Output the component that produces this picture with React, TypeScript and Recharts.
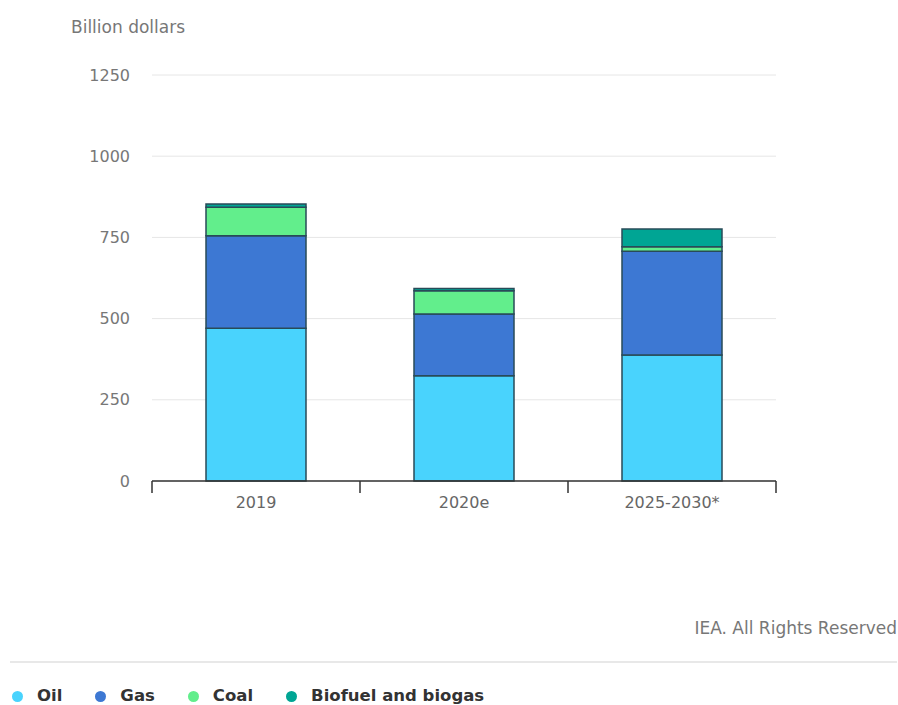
import React from "react";
import { BarChart, Bar, XAxis, YAxis, CartesianGrid } from "recharts";

const categories = ["2019", "2020e", "2025-2030*"];
const oil = [470, 324, 388];
const gas = [285, 190, 319];
const coal = [88, 72, 14];
const biofuel = [10, 7, 55];
const yTicks = [0, 250, 500, 750, 1000, 1250];

const seriesNames = ["Oil", "Gas", "Coal", "Biofuel and biogas"];
const seriesKeys = ["oil", "gas", "coal", "biofuel"];
const seriesColors = ["#49d3fd", "#3d78d3", "#62ee8c", "#00a594"];

const data = categories.map((name, i) => ({
  name,
  oil: oil[i],
  gas: gas[i],
  coal: coal[i],
  biofuel: biofuel[i],
}));

const FONT = "'DejaVu Sans', sans-serif";

const CategoryTick = (props: any) => {
  const { x, y, payload, index, visibleTicksCount } = props;
  const half = payload && payload.offset ? payload.offset : 0;
  const last = index === visibleTicksCount - 1;
  return (
    <g>
      <line x1={x - half} x2={x - half} y1={y} y2={y + 12} stroke="#333" strokeWidth={1.5} />
      {last && <line x1={x + half} x2={x + half} y1={y} y2={y + 12} stroke="#333" strokeWidth={1.5} />}
      <text
        x={x}
        y={y + 22}
        textAnchor="middle"
        dominantBaseline="middle"
        fill="#666"
        fontSize={16}
        fontFamily={FONT}
      >
        {payload.value}
      </text>
    </g>
  );
};

export default function App() {
  return (
    <div
      style={{
        position: "absolute",
        left: 0,
        top: 0,
        width: 898,
        height: 705,
        background: "#fff",
        fontFamily: FONT,
        overflow: "hidden",
      }}
    >
      <div
        style={{
          position: "absolute",
          left: 71,
          top: 17,
          fontSize: 17,
          color: "#777",
          lineHeight: "20px",
        }}
      >
        Billion dollars
      </div>
      <BarChart
        width={898}
        height={705}
        data={data}
        margin={{ top: 75, right: 122, left: 0, bottom: 194 }}
      >
        <CartesianGrid vertical={false} stroke="#e6e6e6" strokeWidth={1} />
        <YAxis
          domain={[0, 1250]}
          ticks={yTicks}
          width={152}
          axisLine={false}
          tickLine={false}
          tickSize={0}
          tickMargin={22}
          tick={{ fill: "#777", fontSize: 16, fontFamily: FONT }}
          interval={0}
        />
        <XAxis
          dataKey="name"
          height={30}
          axisLine={{ stroke: "#333", strokeWidth: 1.5 }}
          tickLine={false}
          tickSize={0}
          tickMargin={0}
          interval={0}
          tick={<CategoryTick />}
        />
        {seriesKeys.map((k, i) => (
          <Bar
            key={k}
            dataKey={k}
            name={seriesNames[i]}
            stackId="a"
            fill={seriesColors[i]}
            stroke="#284b58"
            strokeWidth={1.5}
            barSize={100}
            isAnimationActive={false}
          />
        ))}
      </BarChart>
      <div
        style={{
          position: "absolute",
          right: 1,
          top: 618,
          fontSize: 17,
          color: "#777",
          lineHeight: "20px",
        }}
      >
        IEA. All Rights Reserved
      </div>
      <div
        style={{
          position: "absolute",
          left: 10,
          width: 887,
          top: 661,
          height: 2,
          background: "#e8e8e8",
        }}
      />
      <div
        style={{
          position: "absolute",
          left: 12,
          top: 686,
          display: "flex",
          alignItems: "center",
          fontSize: 16.5,
          fontWeight: "bold",
          color: "#333",
          lineHeight: "20px",
        }}
      >
        {seriesNames.map((n, i) => (
          <div key={n} style={{ display: "flex", alignItems: "center", marginRight: 33 }}>
            <span
              style={{
                display: "inline-block",
                width: 11,
                height: 11,
                borderRadius: "50%",
                background: seriesColors[i],
                marginRight: 14,
              }}
            />
            <span>{n}</span>
          </div>
        ))}
      </div>
    </div>
  );
}
